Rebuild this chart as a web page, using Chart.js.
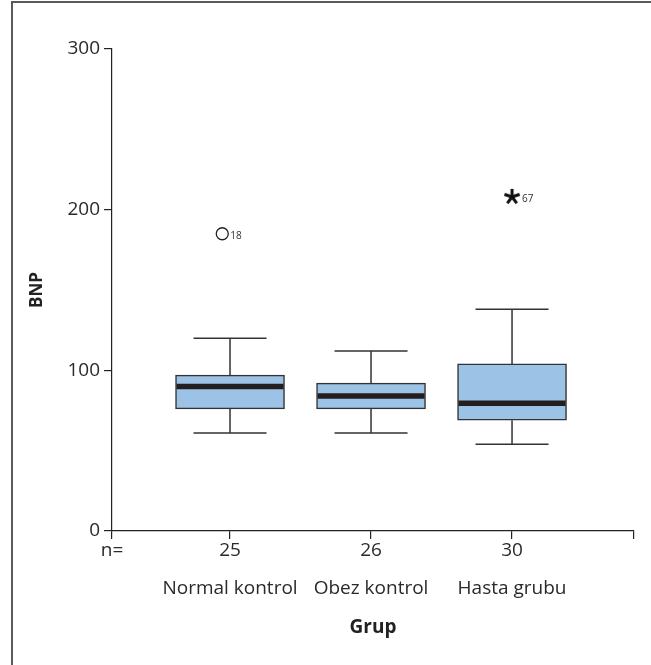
<!DOCTYPE html>
<html>
<head>
<meta charset="utf-8">
<script src="https://cdn.jsdelivr.net/npm/chart.js@4.4.1/dist/chart.umd.min.js"></script>
<style>
  html, body { margin: 0; padding: 0; background: #fff; }
  #wrap { position: relative; width: 651px; height: 665px; }
  #frame { position: absolute; left: 11px; top: 1px; right: 0; bottom: 0;
           border-top: 2px solid #5a5a5a; border-left: 2px solid #5a5a5a; }
  canvas { position: absolute; left: 0; top: 0; }
</style>
</head>
<body>
<div id="wrap">
  <div id="frame"></div>
  <canvas id="myChart" width="651" height="665"></canvas>
</div>
<script>
// data
var groups = ["Normal kontrol", "Obez kontrol", "Hasta grubu"];
var counts = ["25", "26", "30"];
var positions = [1, 2, 3];
var whiskerLow = [61, 61, 54];
var q1 = [76, 76, 69];
var median = [90, 84, 79.5];
var q3 = [97, 92, 104];
var whiskerHigh = [120, 112, 138];
// outlier (circle) and extreme (asterisk) cases
var outX = [0.945];
var outY = [185];
var outLabel = ["18"];
var extX = [3];
var extY = [208];
var extLabel = ["67"];
var yTicks = [0, 100, 200, 300];

var xMin = 0.163, xMax = 3.865;
var ink = '#222';
var txt = '#2a2a2a';
var font = "'Open Sans', 'Noto Sans', sans-serif";

// asterisk point style
var star = document.createElement('canvas');
star.width = 20; star.height = 20;
(function() {
  var c = star.getContext('2d');
  c.strokeStyle = '#111';
  c.lineWidth = 3;
  for (var k = 0; k < 5; k++) {
    var a = -Math.PI / 2 + k * 2 * Math.PI / 5;
    c.beginPath();
    c.moveTo(10, 10);
    c.lineTo(10 + 8 * Math.cos(a), 10 + 8 * Math.sin(a));
    c.stroke();
  }
})();

var boxPlugin = {
  id: 'boxParts',
  afterDatasetsDraw: function(chart) {
    var ctx = chart.ctx;
    var xs = chart.scales.x, ys = chart.scales.y;
    var bars = chart.getDatasetMeta(0).data;
    ctx.save();
    for (var i = 0; i < positions.length; i++) {
      var xc = xs.getPixelForValue(positions[i]);
      var half = bars[i].width / 2;
      var cap = half * 0.67;
      var yLo = ys.getPixelForValue(whiskerLow[i]);
      var yHi = ys.getPixelForValue(whiskerHigh[i]);
      var yQ1 = ys.getPixelForValue(q1[i]);
      var yQ3 = ys.getPixelForValue(q3[i]);
      ctx.strokeStyle = '#333';
      ctx.lineWidth = 1.5;
      ctx.beginPath();
      ctx.moveTo(xc, yQ3); ctx.lineTo(xc, yHi);
      ctx.moveTo(xc - cap, yHi); ctx.lineTo(xc + cap, yHi);
      ctx.moveTo(xc, yQ1); ctx.lineTo(xc, yLo);
      ctx.moveTo(xc - cap, yLo); ctx.lineTo(xc + cap, yLo);
      ctx.stroke();
      // median
      var yM = ys.getPixelForValue(median[i]);
      ctx.strokeStyle = '#231f20';
      ctx.lineWidth = 5.5;
      ctx.beginPath();
      ctx.moveTo(xc - half + 1, yM); ctx.lineTo(xc + half - 1, yM);
      ctx.stroke();
    }
    // case numbers next to the outlier marks
    ctx.fillStyle = '#333';
    ctx.font = "10px " + font;
    ctx.textBaseline = 'middle';
    ctx.textAlign = 'left';
    for (var j = 0; j < outX.length; j++) {
      ctx.fillText(outLabel[j], xs.getPixelForValue(outX[j]) + 8, ys.getPixelForValue(outY[j]) + 2);
    }
    for (var k = 0; k < extX.length; k++) {
      ctx.fillText(extLabel[k], xs.getPixelForValue(extX[k]) + 10, ys.getPixelForValue(extY[k]) + 2);
    }
    ctx.restore();
  }
};

var boxData = positions.map(function(p, i) { return { x: p, y: [q1[i], q3[i]] }; });
var outData = outX.map(function(p, i) { return { x: p, y: outY[i] }; });
var extData = extX.map(function(p, i) { return { x: p, y: extY[i] }; });

var ctx = document.getElementById("myChart").getContext('2d');
var myChart = new Chart(ctx, {
  type: 'bar',
  data: {
    datasets: [{
      type: 'bar',
      data: boxData,
      backgroundColor: '#9cc3e6',
      borderColor: '#333',
      borderWidth: 1.5,
      borderSkipped: false,
      barThickness: 109
    }, {
      type: 'scatter',
      data: outData,
      pointStyle: 'circle',
      pointRadius: 6,
      pointBorderWidth: 1.3,
      pointBorderColor: '#222',
      pointBackgroundColor: '#fff'
    }, {
      type: 'scatter',
      data: extData,
      pointStyle: star,
      pointRadius: 8
    }]
  },
  options: {
    responsive: false,
    animation: false,
    events: [],
    layout: { padding: { left: 0, top: 49, right: 17, bottom: 0 } },
    plugins: { legend: { display: false }, tooltip: { enabled: false } },
    scales: {
      x: {
        type: 'linear',
        min: xMin,
        max: xMax,
        offset: false,
        afterBuildTicks: function(scale) {
          scale.ticks = [{ value: xMin }].concat(positions.map(function(p) { return { value: p }; }), [{ value: xMax }]);
        },
        afterFit: function(scale) { scale.height = 134; },
        border: { display: true, color: ink, width: 1.2 },
        grid: { display: true, offset: false, drawOnChartArea: false, drawTicks: true, tickLength: 8, color: ink, lineWidth: 1.2 },
        ticks: {
          autoSkip: false,
          maxRotation: 0,
          padding: -7,
          color: txt,
          font: { family: font, size: 19, lineHeight: '38px' },
          callback: function(value, index) {
            if (index === 0) return 'n=';
            if (index > positions.length) return '';
            return [counts[index - 1], groups[index - 1]];
          }
        },
        title: {
          display: true,
          text: 'Grup',
          color: ink,
          font: { family: font, size: 19, weight: 'bold' },
          padding: { top: 0, bottom: 26 }
        }
      },
      y: {
        min: 0,
        max: 300,
        afterBuildTicks: function(scale) {
          scale.ticks = yTicks.map(function(v) { return { value: v }; });
        },
        afterFit: function(scale) { scale.width = 112; },
        border: { display: true, color: ink, width: 1.2 },
        grid: { display: true, drawOnChartArea: false, drawTicks: true, tickLength: 8, color: ink, lineWidth: 1.2 },
        ticks: {
          padding: 4,
          color: txt,
          font: { family: font, size: 19 }
        },
        title: {
          display: true,
          text: 'BNP',
          color: ink,
          font: { family: font, size: 17, weight: 'bold' },
          padding: { top: 27, bottom: 0 }
        }
      }
    }
  },
  plugins: [boxPlugin]
});
</script>
</body>
</html>
